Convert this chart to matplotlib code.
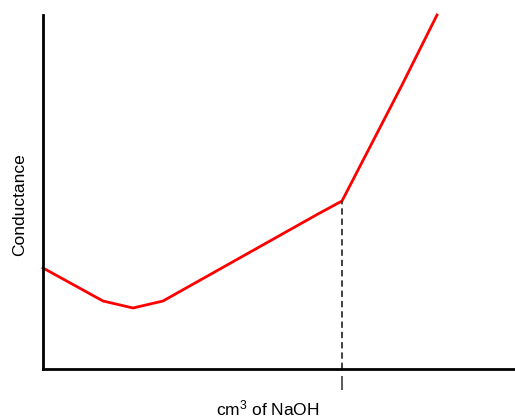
import matplotlib
matplotlib.use("Agg")
import matplotlib.pyplot as plt

# Data (in arbitrary units)
volume = [0, 60, 90, 120, 275, 299, 359, 394]
conductance = [101, 68, 61, 68, 155, 168, 284, 354]
equiv_volume = 299
equiv_conductance = 168

plt.rcParams['font.family'] = ['Liberation Sans', 'DejaVu Sans']
plt.rcParams['mathtext.fontset'] = 'custom'
plt.rcParams['mathtext.rm'] = 'Liberation Sans'
plt.rcParams['mathtext.default'] = 'regular'

fig = plt.figure(figsize=(5.15, 4.17), dpi=100)
ax = fig.add_axes([43/515, (417-369)/417, 472/515, 354/417])
ax.set_xlim(0, 472)
ax.set_ylim(0, 354)

ax.plot(volume, conductance, color='#ff0000', lw=2, solid_joinstyle='miter', clip_on=False)
ax.plot([equiv_volume, equiv_volume], [0, equiv_conductance], color='#333333',
        lw=1.3, ls=(0, (3.5, 2.2)))

for s in ['top', 'right']:
    ax.spines[s].set_visible(False)
for s in ['left', 'bottom']:
    ax.spines[s].set_linewidth(2)
    ax.spines[s].set_color('black')

ax.set_xticks([])
ax.set_yticks([])
ax.text(equiv_volume, -7, '|', ha='center', va='top', fontsize=11)

fig.text(268/515, 1 - 408/417, r'cm$^3$ of NaOH', ha='center', va='center', fontsize=12.5)
fig.text(20/515, 1 - 205/417, 'Conductance', ha='center', va='center', rotation=90, fontsize=12.5)

fig.savefig('out.png', dpi=100)
